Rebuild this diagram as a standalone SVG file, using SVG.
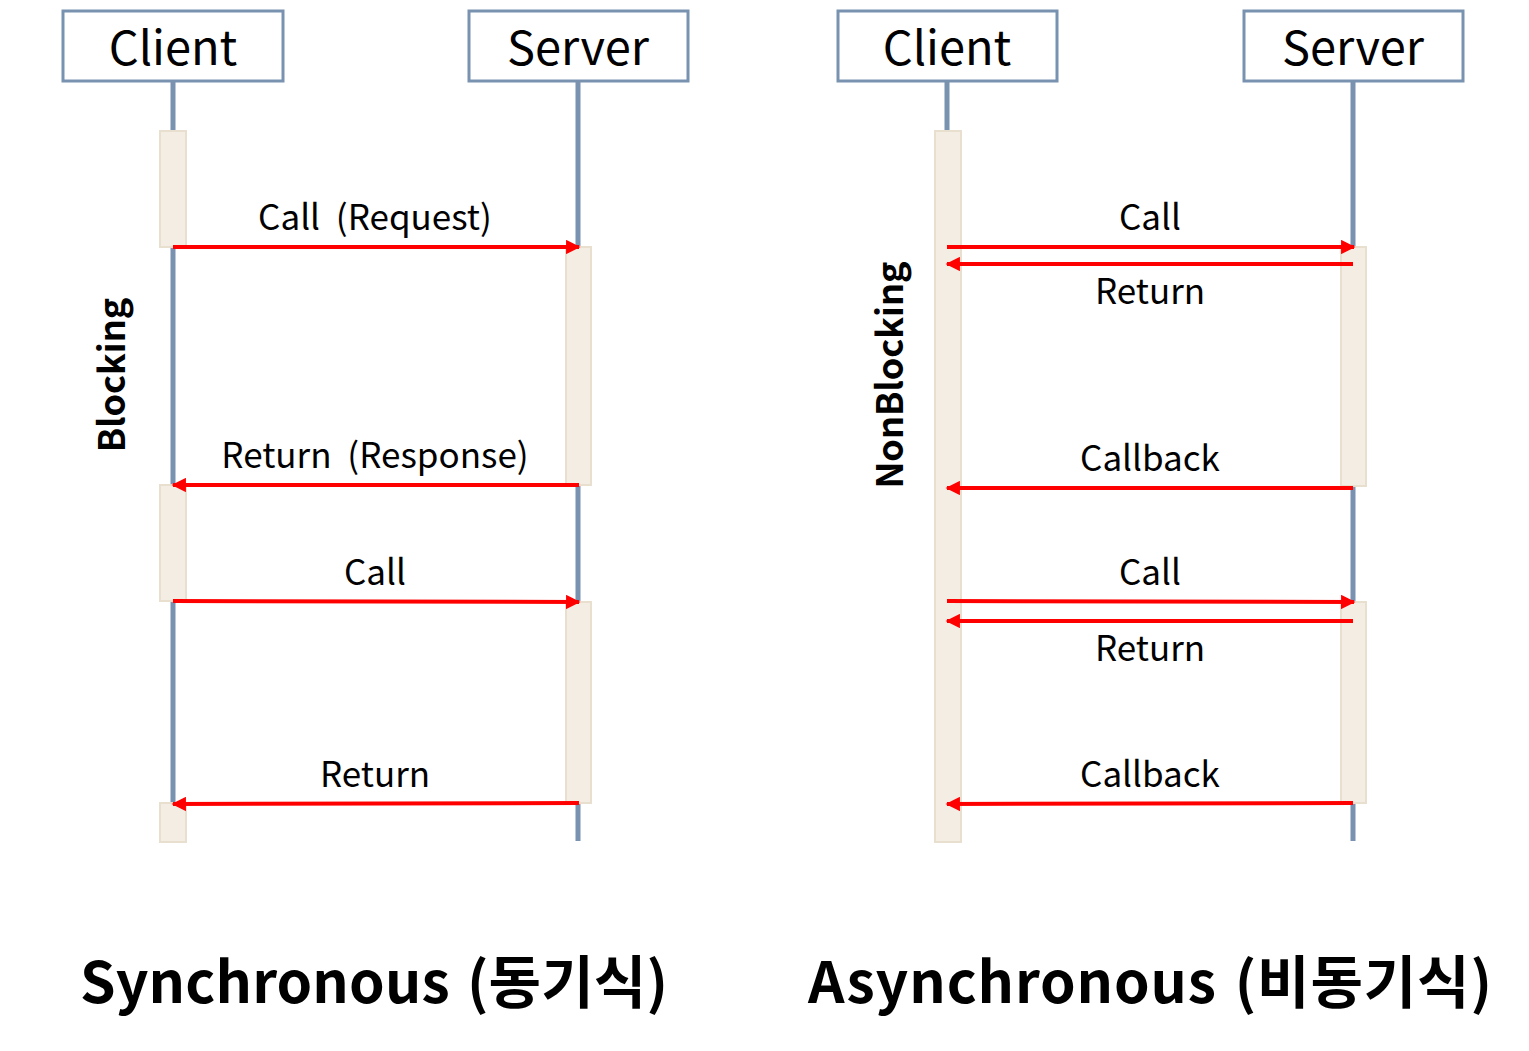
<svg xmlns="http://www.w3.org/2000/svg" width="1529" height="1051" viewBox="0 0 1529 1051">
<defs>
<style>
.box{fill:#fff;stroke:#7892b0;stroke-width:3}
.life{stroke:#7892b0;stroke-width:5;fill:none}
.bar{fill:#f3ede4;stroke:#e8dfcf;stroke-width:2}
.msg{stroke:#ff0000;stroke-width:4;fill:none}
.hd{font-family:"Noto Sans CJK KR","Open Sans",sans-serif;font-size:47px;text-anchor:middle;fill:#000}
.lbl{font-family:"Noto Sans CJK KR","Open Sans",sans-serif;font-size:35px;word-spacing:8px;text-anchor:middle;fill:#000}
.side{font-family:"Noto Sans CJK KR","Open Sans",sans-serif;font-size:36px;font-weight:bold;text-anchor:middle;fill:#000}
.title{font-family:"Noto Sans CJK KR","Open Sans",sans-serif;font-size:57px;font-weight:bold;word-spacing:4px;fill:#000}
</style>
<marker id="ah" viewBox="0 0 10 10" refX="9" refY="5" markerWidth="4" markerHeight="3.6" orient="auto" markerUnits="strokeWidth"><path d="M0,0 L10,5 L0,10 z" fill="#ff0000"/></marker>
</defs>
<g id="lifelines">
<line class="life" x1="173" y1="81" x2="173" y2="803"/>
<line class="life" x1="578" y1="81" x2="578" y2="841"/>
<line class="life" x1="947" y1="81" x2="947" y2="842"/>
<line class="life" x1="1353" y1="81" x2="1353" y2="841"/>
</g>
<g id="sync-client"><rect class="box" x="63" y="11" width="220" height="70"/><text class="hd" x="173" y="65">Client</text></g>
<g id="sync-server"><rect class="box" x="469" y="11" width="219" height="70"/><text class="hd" x="578" y="65">Server</text></g>
<g id="async-client"><rect class="box" x="838" y="11" width="219" height="70"/><text class="hd" x="947" y="65">Client</text></g>
<g id="async-server"><rect class="box" x="1244" y="11" width="219" height="70"/><text class="hd" x="1353" y="65">Server</text></g>
<g id="activations">
<rect class="bar" x="160" y="131" width="26" height="116"/>
<rect class="bar" x="160" y="485" width="26" height="116"/>
<rect class="bar" x="160" y="803" width="26" height="39"/>
<rect class="bar" x="566" y="247" width="25" height="238"/>
<rect class="bar" x="566" y="602" width="25" height="201"/>
<rect class="bar" x="935" y="131" width="26" height="711"/>
<rect class="bar" x="1341" y="247" width="25" height="239"/>
<rect class="bar" x="1341" y="602" width="25" height="201"/>
</g>
<g id="connectors">
<line class="msg" x1="173" y1="247" x2="579" y2="247" marker-end="url(#ah)"/>
<line class="msg" x1="579" y1="485" x2="173" y2="485" marker-end="url(#ah)"/>
<line class="msg" x1="173" y1="601" x2="579" y2="602" marker-end="url(#ah)"/>
<line class="msg" x1="579" y1="803" x2="173" y2="804" marker-end="url(#ah)"/>
<line class="msg" x1="947" y1="247" x2="1354" y2="247" marker-end="url(#ah)"/>
<line class="msg" x1="1353" y1="264" x2="947" y2="264" marker-end="url(#ah)"/>
<line class="msg" x1="1353" y1="488" x2="947" y2="488" marker-end="url(#ah)"/>
<line class="msg" x1="947" y1="601" x2="1354" y2="602" marker-end="url(#ah)"/>
<line class="msg" x1="1353" y1="621" x2="947" y2="621" marker-end="url(#ah)"/>
<line class="msg" x1="1353" y1="803" x2="947" y2="804" marker-end="url(#ah)"/>
</g>
<g id="labels">
<text class="lbl" x="375" y="230">Call (Request)</text>
<text class="lbl" x="375" y="468">Return (Response)</text>
<text class="lbl" x="375" y="585">Call</text>
<text class="lbl" x="375" y="787">Return</text>
<text class="lbl" x="1150" y="230">Call</text>
<text class="lbl" x="1150" y="304">Return</text>
<text class="lbl" x="1150" y="471">Callback</text>
<text class="lbl" x="1150" y="585">Call</text>
<text class="lbl" x="1150" y="661">Return</text>
<text class="lbl" x="1150" y="787">Callback</text>
<text class="side" transform="translate(125 375) rotate(-90)">Blocking</text>
<text class="side" transform="translate(903 375) rotate(-90)">NonBlocking</text>
</g>
<g id="titles">
<text class="title" x="80" y="1003" textLength="588" lengthAdjust="spacing">Synchronous (동기식)</text>
<text class="title" x="808" y="1003" textLength="684" lengthAdjust="spacing">Asynchronous (비동기식)</text>
</g>
</svg>
